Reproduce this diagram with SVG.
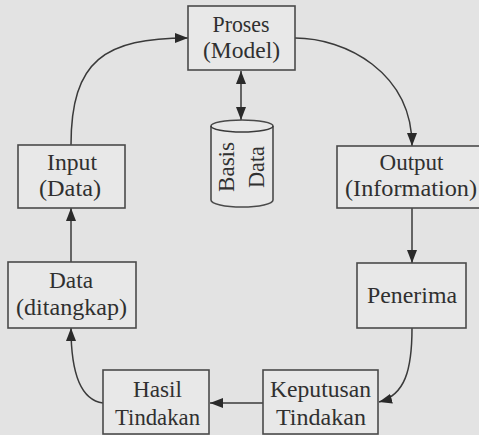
<svg xmlns="http://www.w3.org/2000/svg" width="479" height="435" viewBox="0 0 479 435">
<defs>
<style>
.box{fill:#e8e8e8;stroke:#4a4a4a;stroke-width:1.6}
.lbl{font-family:"Liberation Serif","Times New Roman",serif;font-size:24px;fill:#303030}
.edge{fill:none;stroke:#3a3a3a;stroke-width:1.5}
</style>
<marker id="ah" viewBox="0 0 13 10" refX="13" refY="5" markerWidth="13" markerHeight="10" markerUnits="userSpaceOnUse" orient="auto-start-reverse">
<path d="M0,0 L13,5 L0,10 Z" fill="#2a2a2a"/>
</marker>
</defs>
<rect x="0" y="0" width="479" height="435" fill="#e3e3e3"/>

<g id="connectors">
<path class="edge" d="M71,145 C71,60 105,38 188,38" marker-end="url(#ah)"/>
<path class="edge" d="M295,38 C345,38 412,72 412,146" marker-end="url(#ah)"/>
<path class="edge" d="M412,208 L412,263" marker-end="url(#ah)"/>
<path class="edge" d="M412,328 C412,370 405,395 379,402" marker-end="url(#ah)"/>
<path class="edge" d="M263,403 L210,403" marker-end="url(#ah)"/>
<path class="edge" d="M103,403 C80,400 71,370 71,328" marker-end="url(#ah)"/>
<path class="edge" d="M71,262 L71,208" marker-end="url(#ah)"/>
<path class="edge" d="M241,71 L241,120" marker-start="url(#ah)" marker-end="url(#ah)"/>
</g>

<g id="proses">
<rect class="box" x="188" y="6" width="107" height="64"/>
<text class="lbl" x="241" y="32" text-anchor="middle" textLength="57" lengthAdjust="spacingAndGlyphs">Proses</text>
<text class="lbl" x="241.5" y="58" text-anchor="middle" textLength="77" lengthAdjust="spacingAndGlyphs">(Model)</text>
</g>

<g id="basis-data">
<path class="box" d="M211,126 A31,6 0 0 1 273,126 L273,200 A31,7 0 0 1 211,200 Z"/>
<path class="edge" d="M211,126 A31,6 0 0 0 273,126" stroke-width="1.4"/>
<text class="lbl" transform="translate(234,167) rotate(-90)" text-anchor="middle" textLength="50" lengthAdjust="spacingAndGlyphs">Basis</text>
<text class="lbl" transform="translate(264,167) rotate(-90)" text-anchor="middle" textLength="42" lengthAdjust="spacingAndGlyphs">Data</text>
</g>

<g id="input">
<rect class="box" x="18" y="145" width="107" height="63"/>
<text class="lbl" x="72" y="170" text-anchor="middle" textLength="50" lengthAdjust="spacingAndGlyphs">Input</text>
<text class="lbl" x="70" y="196" text-anchor="middle" textLength="62" lengthAdjust="spacingAndGlyphs">(Data)</text>
</g>

<g id="output">
<rect class="box" x="337" y="146" width="150" height="62"/>
<text class="lbl" x="411.5" y="170" text-anchor="middle" textLength="64" lengthAdjust="spacingAndGlyphs">Output</text>
<text class="lbl" x="411" y="196" text-anchor="middle" textLength="132" lengthAdjust="spacingAndGlyphs">(Information)</text>
</g>

<g id="penerima">
<rect class="box" x="357" y="263" width="109" height="65"/>
<text class="lbl" x="412" y="303" text-anchor="middle" textLength="90" lengthAdjust="spacingAndGlyphs">Penerima</text>
</g>

<g id="keputusan">
<rect class="box" x="263" y="370" width="115" height="64"/>
<text class="lbl" x="320.5" y="397" text-anchor="middle" textLength="101" lengthAdjust="spacingAndGlyphs">Keputusan</text>
<text class="lbl" x="321" y="425" text-anchor="middle" textLength="90" lengthAdjust="spacingAndGlyphs">Tindakan</text>
</g>

<g id="hasil">
<rect class="box" x="103" y="370" width="106" height="64"/>
<text class="lbl" x="157.5" y="397" text-anchor="middle" textLength="49" lengthAdjust="spacingAndGlyphs">Hasil</text>
<text class="lbl" x="157.5" y="425" text-anchor="middle" textLength="85" lengthAdjust="spacingAndGlyphs">Tindakan</text>
</g>

<g id="data-ditangkap">
<rect class="box" x="8" y="262" width="128" height="66"/>
<text class="lbl" x="71" y="288" text-anchor="middle" textLength="44" lengthAdjust="spacingAndGlyphs">Data</text>
<text class="lbl" x="71.5" y="315" text-anchor="middle" textLength="111" lengthAdjust="spacingAndGlyphs">(ditangkap)</text>
</g>
</svg>
